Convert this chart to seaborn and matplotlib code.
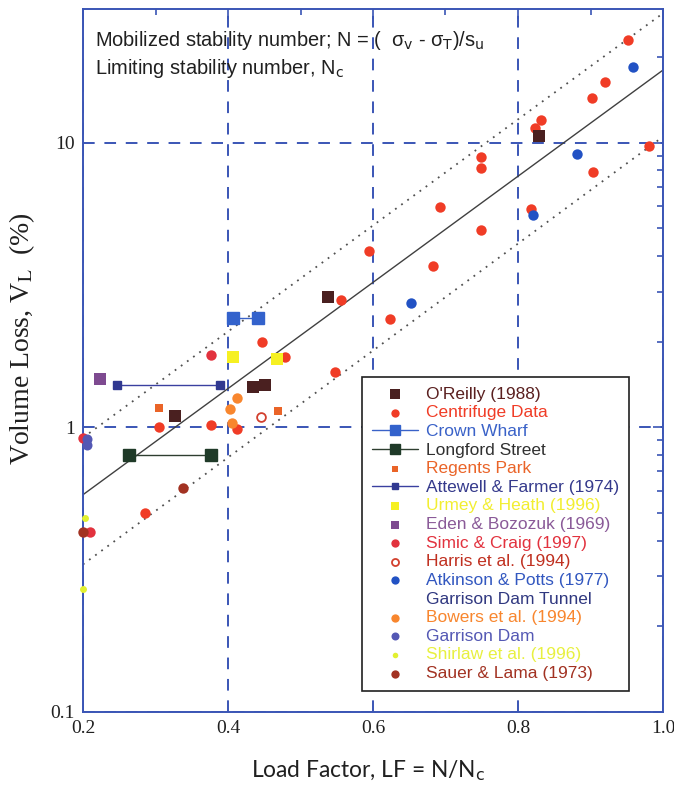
import seaborn as sns
import matplotlib.pyplot as plt
from matplotlib.lines import Line2D
from matplotlib.ticker import FixedLocator, FixedFormatter, LogLocator, NullFormatter

# values (load factor, volume loss %)
oreilly_x = [0.327, 0.434, 0.451, 0.538, 0.829]
oreilly_y = [1.10, 1.39, 1.41, 2.87, 10.6]

centrifuge_x = [0.286, 0.305, 0.377, 0.412, 0.447, 0.479, 0.547, 0.556, 0.595, 0.623,
                0.683, 0.692, 0.749, 0.749, 0.749, 0.818, 0.823, 0.832, 0.902, 0.903,
                0.920, 0.952, 0.981]
centrifuge_y = [0.50, 1.00, 1.02, 0.99, 1.99, 1.77, 1.57, 2.81, 4.16, 2.40,
                3.69, 5.95, 8.94, 8.18, 4.92, 5.86, 11.3, 12.0, 14.4, 7.87,
                16.4, 22.9, 9.7]

crown_x = [0.407, 0.442]
crown_y = [2.42, 2.42]

longford_x = [0.264, 0.377]
longford_y = [0.80, 0.80]

regents_x = [0.305, 0.469]
regents_y = [1.17, 1.14]

attewell_x = [0.247, 0.389]
attewell_y = [1.41, 1.41]

urmey_x = [0.407, 0.468]
urmey_y = [1.77, 1.74]

eden_x = [0.223]
eden_y = [1.48]

simic_x = [0.377, 0.200, 0.209]
simic_y = [1.80, 0.92, 0.43]

harris_x = [0.446]
harris_y = [1.09]

atkinson_x = [0.652, 0.820, 0.882, 0.958]
atkinson_y = [2.73, 5.57, 9.15, 18.4]

bowers_x = [0.412, 0.403, 0.406]
bowers_y = [1.27, 1.16, 1.04]

garrison_x = [0.206, 0.206]
garrison_y = [0.91, 0.87]

shirlaw_x = [0.203, 0.200]
shirlaw_y = [0.48, 0.27]

sauer_x = [0.200, 0.338]
sauer_y = [0.43, 0.61]

# trend line and bounds
fit_x = [0.2, 1.0]
fit_y = [0.58, 18.0]
upper_y = [0.92, 28.5]
lower_y = [0.33, 10.5]

sns.set_theme(style="white")
plt.rcParams['font.family'] = ['Liberation Sans', 'DejaVu Sans']

blue = '#3a55b5'

fig = plt.figure(figsize=(6.74, 7.88), dpi=100)
ax = fig.add_axes([83 / 674, 1 - 712 / 788, 580 / 674, 703 / 788])
ax.set_yscale('log')

# fit lines
sns.lineplot(x=fit_x, y=fit_y, color='#404040', lw=1.0, ax=ax, zorder=2)
sns.lineplot(x=fit_x, y=upper_y, color='#505050', lw=1.3, ls=(0, (1, 3.2)), ax=ax, zorder=2)
sns.lineplot(x=fit_x, y=lower_y, color='#505050', lw=1.3, ls=(0, (1, 3.2)), ax=ax, zorder=2)

# connected pairs
ax.plot(crown_x, crown_y, color='#3a62c8', lw=1.0, marker='s', ms=8.6,
        mfc='#3362cc', mec='#3362cc', label='Crown Wharf', zorder=4)
ax.plot(longford_x, longford_y, color='#2e3e30', lw=1.0, marker='s', ms=8.6,
        mfc='#1f3a28', mec='#1f3a28', label='Longford Street', zorder=4)
ax.plot(attewell_x, attewell_y, color='#3a40a0', lw=1.0, marker='s', ms=5.6,
        mfc='#303890', mec='#303890', label='Attewell & Farmer (1974)', zorder=4)

# single symbols
def dots(x, y, marker, s, color, label, hollow=False):
    if hollow:
        sns.scatterplot(x=x, y=y, marker=marker, s=s, facecolor='white', edgecolor=color,
                        linewidth=1.3, label=label, ax=ax, clip_on=False, zorder=5)
    else:
        sns.scatterplot(x=x, y=y, marker=marker, s=s, color=color, edgecolor=color,
                        linewidth=0, label=label, ax=ax, clip_on=False, zorder=5)

dots(centrifuge_x, centrifuge_y, 'o', 56, '#f03c26', 'Centrifuge Data')
dots(oreilly_x, oreilly_y, 's', 74, '#4a2020', "O'Reilly (1988)")
dots(regents_x, regents_y, 's', 34, '#ea6428', 'Regents Park')
dots(urmey_x, urmey_y, 's', 64, '#f6f022', 'Urmey & Heath (1996)')
dots(eden_x, eden_y, 's', 64, '#7e4a90', 'Eden & Bozozuk (1969)')
dots(simic_x, simic_y, 'o', 56, '#e2323e', 'Simic & Craig (1997)')
dots(harris_x, harris_y, 'o', 40, '#d2402e', 'Harris et al. (1994)', hollow=True)
dots(atkinson_x, atkinson_y, 'o', 56, '#2252c4', 'Atkinson & Potts (1977)')
dots(bowers_x, bowers_y, 'o', 56, '#f8862e', 'Bowers et al. (1994)')
dots(garrison_x, garrison_y, 'o', 52, '#5458b4', 'Garrison Dam')
dots(shirlaw_x, shirlaw_y, 'o', 25, '#e2f030', 'Shirlaw et al. (1996)')
dots(sauer_x, sauer_y, 'o', 56, '#a23222', 'Sauer & Lama (1973)')

# axes
ax.set_xlim(0.2, 1.0)
ax.set_ylim(0.1, 29.5)
ax.xaxis.set_major_locator(FixedLocator([0.2, 0.4, 0.6, 0.8, 1.0]))
ax.xaxis.set_major_formatter(FixedFormatter(['0.2', '0.4', '0.6', '0.8', '1.0']))
ax.xaxis.set_minor_locator(FixedLocator([0.3, 0.5, 0.7, 0.9]))
ax.yaxis.set_major_locator(FixedLocator([0.1, 1, 10]))
ax.yaxis.set_major_formatter(FixedFormatter(['0.1', '1', '10']))
ax.yaxis.set_minor_locator(LogLocator(base=10, subs=range(2, 10)))
ax.yaxis.set_minor_formatter(NullFormatter())

ax.grid(True, which='major', color=blue, ls=(0, (6, 5)), lw=1.4)
ax.grid(False, which='minor')
for sp in ax.spines.values():
    sp.set_color(blue)
    sp.set_linewidth(1.4)
ax.tick_params(which='both', direction='in', top=True, right=True, color=blue, width=1.2)
ax.tick_params(which='major', length=7, labelsize=14, pad=6)
ax.tick_params(which='minor', length=4)
for lab in ax.get_xticklabels() + ax.get_yticklabels():
    lab.set_fontfamily('Liberation Serif')
    lab.set_color('#202020')

# annotations
fig.text(95 / 674, 1 - 40 / 788,
         'Mobilized stability number; N = (  σ$_{\\rm v}$ - σ$_{\\rm T}$)/s$_{\\rm u}$',
         fontsize=14.4, color='#202020', va='center', math_fontfamily='dejavusans')
fig.text(95 / 674, 1 - 68 / 788, 'Limiting stability number, N$_{\\rm c}$',
         fontsize=14.4, color='#202020', va='center', math_fontfamily='dejavusans')

fig.text(22 / 674, 1 - 339 / 788, 'Volume Loss, V$_{\\rm L}$  (%)', rotation=90,
         fontsize=20, family='Liberation Serif', color='#202020', ha='center', va='center',
         math_fontfamily='stix')
fig.text(368 / 674, 1 - 771 / 788, 'Load Factor, LF = N/N$_{\\rm c}$',
         fontsize=16.4, family='Lato', color='#202020', ha='center', va='center',
         math_fontfamily='dejavusans')

# legend
order = ["O'Reilly (1988)", 'Centrifuge Data', 'Crown Wharf', 'Longford Street', 'Regents Park',
         'Attewell & Farmer (1974)', 'Urmey & Heath (1996)', 'Eden & Bozozuk (1969)',
         'Simic & Craig (1997)', 'Harris et al. (1994)', 'Atkinson & Potts (1977)',
         'Garrison Dam Tunnel', 'Bowers et al. (1994)', 'Garrison Dam',
         'Shirlaw et al. (1996)', 'Sauer & Lama (1973)']
text_colors = ['#5a2020', '#f03c26', '#3a62c8', '#303030', '#ea6428', '#353a8c', '#f2ee30',
               '#8a5a98', '#e2323e', '#c03020', '#3358c0', '#303880', '#f8862e', '#5458b4',
               '#e8f040', '#a23222']
h, l = ax.get_legend_handles_labels()
lookup = dict(zip(l, h))
lookup['Garrison Dam Tunnel'] = Line2D([], [], ls='none', marker=None)
leg = ax.legend([lookup[k] for k in order], order, loc='upper left',
                bbox_to_anchor=((362 - 83) / 580, (712 - 377) / 703), borderaxespad=0,
                fontsize=12.5, handlelength=2.7, handletextpad=0.45, labelspacing=0.2,
                frameon=True, fancybox=False, framealpha=1, edgecolor='#202020',
                borderpad=0.55, markerscale=0.8)
leg.get_frame().set_linewidth(1.2)
for t, c in zip(leg.get_texts(), text_colors):
    t.set_color(c)

fig.savefig('out.png', dpi=100)
